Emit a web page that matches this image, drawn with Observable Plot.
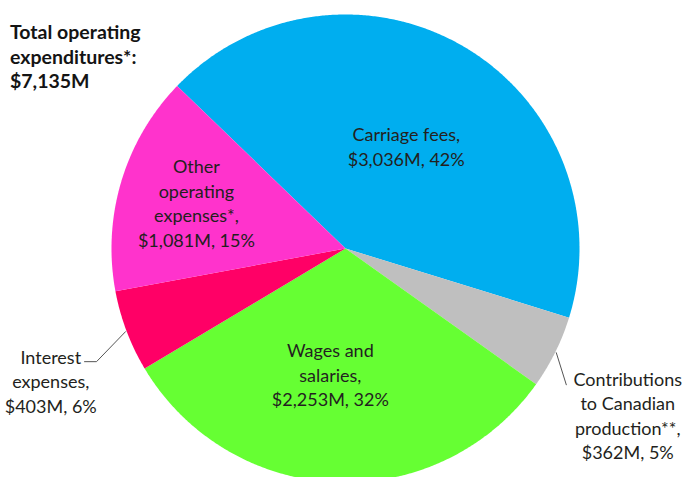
<!DOCTYPE html>
<html><head><meta charset="utf-8">
<script src="https://cdn.jsdelivr.net/npm/d3@7"></script>
<script src="https://cdn.jsdelivr.net/npm/@observablehq/plot@0.6"></script>
<style>
body{margin:0;background:#fff;}
#wrap{position:relative;width:685px;height:477px;overflow:hidden;}
#title{position:absolute;left:10px;top:20px;z-index:2;font-family:Lato,"Open Sans",sans-serif;font-weight:bold;font-size:19.5px;line-height:24.5px;color:#141414;}
</style></head><body>
<div id="wrap"><div id="title"></div></div>
<script>
// ---- data ----
const categories = ["Carriage fees", "Contributions to Canadian production**", "Wages and salaries", "Interest expenses", "Other operating expenses*"];
const labelNames = ["Carriage fees,", "Contributions\nto Canadian\nproduction**,", "Wages and\nsalaries,", "Interest\nexpenses,", "Other\noperating\nexpenses*,"];
const values = [3036, 362, 2253, 403, 1081];
const percents = [42, 5, 32, 6, 15];
const colors = ["#00aeef", "#bfbfbf", "#66ff33", "#ff0066", "#ff33cc"];

// ---- layout ----
const W = 685, H = 477, cx = 345, cy = 248, R = 234;
const startDeg = -46;
const labelLayout = [
  {da: 0, rf: 0.51},
  {da: 4.2, rf: 1.40},
  {da: 4.6, rf: 0.54},
  {da: -3.4, rf: 1.38},
  {da: 0.5, rf: 0.667}
];
// leader offsets in pixels from the slice's edge point
const leaders = {
  1: [[0, 0], [10, 32]],
  3: [[0, 0], [-29, 30], [-41, 30]]
};

const fmt = d3.format(",");
const total = d3.sum(values);
document.getElementById("title").innerHTML = `Total operating<br>expenditures*:<br>$${fmt(total)}M`;

const data = categories.map((c, i) => ({name: c, value: values[i], pct: percents[i], i}));
const rad = Math.PI / 180;
const arcs = d3.pie().sort(null).value(d => d.value)
  .startAngle(startDeg * rad).endAngle(startDeg * rad + 2 * Math.PI)(data);

const pt = (a, r) => ({x: r * Math.sin(a), y: -r * Math.cos(a)});

const slicePts = [];
arcs.forEach(a => {
  slicePts.push({name: a.data.name, ...pt(0, 0)});
  const n = Math.max(2, Math.ceil((a.endAngle - a.startAngle) / (0.4 * rad)));
  for (let k = 0; k <= n; k++) {
    const ang = a.startAngle + (a.endAngle - a.startAngle) * k / n;
    slicePts.push({name: a.data.name, ...pt(ang, 1)});
  }
  slicePts.push({name: a.data.name, ...pt(0, 0)});
});

const labels = arcs.map(a => {
  const i = a.data.i, L = labelLayout[i];
  const mid = (a.startAngle + a.endAngle) / 2 + L.da * rad;
  return {...pt(mid, L.rf), text: `${labelNames[i]}\n$${fmt(values[i])}M, ${percents[i]}%`};
});

const leaderPts = [];
Object.entries(leaders).forEach(([k, offs]) => {
  const a = arcs[+k];
  const mid = (a.startAngle + a.endAngle) / 2;
  const e = pt(mid, 1.005);
  offs.forEach(([dx, dy]) => leaderPts.push({g: k, x: e.x + dx / R, y: e.y + dy / R}));
});

const chart = Plot.plot({
  width: W, height: H,
  margin: 0,
  x: {domain: [-cx / R, (W - cx) / R], range: [0, W], axis: null},
  y: {domain: [-cy / R, (H - cy) / R], range: [0, H], axis: null},
  color: {domain: categories, range: colors},
  style: {background: "transparent"},
  marks: [
    Plot.line(slicePts, {x: "x", y: "y", z: "name", fill: "name", stroke: null, curve: "linear"}),
    Plot.line(leaderPts, {x: "x", y: "y", z: "g", stroke: "#555", strokeWidth: 1}),
    Plot.text(labels, {x: "x", y: "y", text: "text", fontSize: 18, lineHeight: 1.36,
      fill: "#231f20", fontFamily: "Lato, 'Open Sans', sans-serif", textAnchor: "middle"})
  ]
});
document.getElementById("wrap").appendChild(chart);
</script>
</body></html>
